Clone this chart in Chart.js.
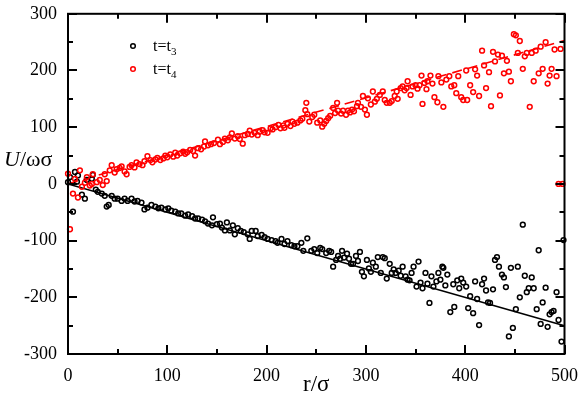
<!DOCTYPE html>
<html>
<head>
<meta charset="utf-8">
<script src="https://cdn.jsdelivr.net/npm/chart.js@4"></script>
<style>
html, body { margin: 0; padding: 0; background: #fff; }
</style>
</head>
<body>
<canvas id="c" width="581" height="399"></canvas>
<script>
// points, [r/sigma, U/omega sigma]
const puntsT3 = [
  [0,3],[2,12],[5,-49],[7,21],[9,4],[10,15],[14,-19],[17,-26],[19,7],[24,9],
  [25,16],[28,-10],[30,-14],[34,-17],[37,-21],[39,-40],[41,-37],[44,-21],[47,-26],[50,-26],
  [54,-30],[57,-26],[60,-30],[64,-26],[67,-31],[70,-30],[74,-33],[77,-45],[80,-42],[84,-37],
  [88,-40],[91,-43],[94,-42],[98,-45],[101,-43],[104,-47],[108,-49],[111,-52],[114,-52],[118,-56],
  [121,-54],[125,-57],[128,-61],[131,-61],[135,-63],[138,-66],[141,-70],[145,-73],[146,-59],[150,-71],
  [153,-70],[155,-77],[158,-82],[160,-68],[163,-82],[166,-73],[168,-89],[171,-78],[174,-83],[177,-85],
  [181,-89],[183,-97],[185,-83],[189,-83],[191,-92],[195,-90],[198,-94],[201,-97],[205,-99],[209,-101],
  [211,-104],[215,-97],[218,-106],[221,-101],[225,-108],[228,-110],[231,-110],[235,-104],[237,-118],[241,-96],
  [245,-118],[248,-115],[251,-122],[254,-113],[256,-115],[260,-122],[263,-118],[265,-120],[267,-146],[270,-134],
  [272,-127],[274,-132],[276,-118],[278,-130],[281,-123],[283,-132],[285,-141],[287,-141],[290,-127],[292,-136],
  [294,-120],[296,-155],[298,-163],[301,-134],[303,-149],[305,-155],[307,-139],[310,-146],[312,-129],[315,-157],
  [317,-129],[319,-131],[321,-167],[324,-141],[326,-157],[328,-151],[330,-157],[333,-153],[335,-162],[337,-146],
  [340,-163],[342,-169],[344,-170],[346,-157],[348,-146],[351,-181],[353,-137],[355,-174],[357,-184],[360,-157],
  [362,-176],[364,-210],[366,-163],[368,-181],[371,-172],[373,-157],[375,-169],[377,-146],[378,-148],[380,-179],
  [382,-160],[385,-226],[388,-177],[389,-217],[392,-170],[394,-184],[396,-167],[398,-174],[401,-181],[403,-219],
  [405,-198],[408,-228],[410,-172],[412,-203],[414,-249],[417,-177],[419,-167],[421,-188],[423,-209],[425,-210],
  [428,-186],[430,-134],[432,-129],[434,-146],[437,-160],[439,-165],[441,-182],[444,-269],[446,-148],[448,-254],
  [451,-221],[453,-146],[455,-200],[458,-72],[460,-162],[462,-191],[464,-184],[467,-165],[469,-184],[472,-221],
  [474,-117],[476,-247],[478,-209],[481,-183],[483,-252],[485,-230],[487,-226],[489,-224],[492,-191],[494,-240],
  [497,-278],[499,-99]
];

const puntsT4 = [
  [0,18],[2,-80],[5,-17],[7,9],[10,-24],[12,24],[14,-5],[17,2],[19,12],[22,-3],
  [24,0],[25,17],[29,3],[32,7],[35,-2],[37,17],[39,5],[42,24],[44,33],[47,20],
  [49,26],[52,28],[54,31],[57,22],[59,17],[62,30],[64,33],[67,29],[69,38],[72,35],
  [75,33],[77,40],[80,49],[83,42],[85,38],[88,43],[90,46],[93,42],[96,45],[98,50],
  [100,47],[103,52],[106,48],[108,55],[110,50],[113,54],[116,57],[118,53],[120,56],[123,60],
  [126,58],[128,50],[131,63],[134,61],[137,66],[138,75],[141,68],[144,70],[147,72],[151,78],
  [153,70],[156,74],[158,80],[161,77],[163,82],[165,89],[168,80],[171,84],[173,79],[176,71],
  [178,86],[181,88],[183,94],[185,87],[188,90],[191,86],[193,92],[196,95],[198,91],[201,90],
  [204,98],[206,96],[209,100],[212,104],[214,98],[217,103],[218,99],[221,106],[224,102],[226,110],
  [228,106],[231,108],[234,112],[236,115],[239,130],[240,143],[241,123],[243,110],[246,118],[248,122],
  [251,108],[254,112],[256,101],[258,106],[260,111],[262,116],[264,120],[267,134],[269,125],[271,143],
  [272,129],[275,124],[277,129],[280,122],[282,129],[284,126],[286,131],[288,128],[291,137],[292,143],
  [295,136],[297,155],[299,131],[301,122],[302,151],[305,140],[307,163],[309,145],[311,150],[314,157],
  [317,163],[319,148],[321,143],[324,143],[326,146],[329,155],[331,163],[332,150],[335,169],[337,172],
  [339,165],[341,169],[342,181],[345,157],[347,172],[350,174],[352,168],[354,174],[356,191],[357,141],
  [359,178],[361,167],[362,181],[365,191],[367,177],[369,153],[372,144],[373,190],[376,179],[378,136],
  [381,184],[384,190],[386,172],[389,174],[391,160],[393,190],[396,153],[398,148],[401,200],[402,148],
  [405,174],[408,162],[410,202],[412,191],[414,155],[417,235],[419,209],[421,169],[424,197],[426,137],
  [428,233],[430,216],[433,228],[435,156],[437,226],[439,195],[442,217],[444,198],[446,181],[449,264],
  [451,262],[453,231],[455,252],[458,203],[460,225],[462,231],[465,136],[467,231],[469,181],[471,235],
  [474,195],[476,242],[478,203],[481,250],[483,177],[485,191],[487,203],[490,237],[492,190],[494,0],
  [496,238],[498,0]
];

// straight lines drawn through the data
const rectaT3 = [[0,0],[500,-250]];
const rectaT4 = [[0,0],[500,253]];

const etiquetes = ['t=t_3', 't=t_4'];
const colors = ['#000000', '#ff0000'];

const eixX = { min: 0, max: 500, pas: 100, menor: 50 };
const eixY = { min: -300, max: 300, pas: 100, menor: 50 };

const SERIF = '"Liberation Serif", "Times New Roman", serif';

function aPunts(arr) {
  return arr.map(p => ({ x: p[0], y: p[1] }));
}

// frame, inward ticks, y title and legend, as in the original plot
const marcPlugin = {
  id: 'marc',
  afterDraw(chart) {
    const ctx = chart.ctx;
    const a = chart.chartArea;
    const sx = chart.scales.x;
    const sy = chart.scales.y;
    ctx.save();
    ctx.strokeStyle = '#000';
    ctx.lineWidth = 2;
    ctx.strokeRect(a.left, a.top, a.right - a.left, a.bottom - a.top);

    ctx.lineWidth = 2;
    for (let v = eixX.min; v <= eixX.max; v += eixX.menor) {
      const px = Math.round(sx.getPixelForValue(v));
      const l = (v % eixX.pas === 0) ? 9 : 5;
      ctx.beginPath();
      ctx.moveTo(px, a.bottom); ctx.lineTo(px, a.bottom - l);
      ctx.moveTo(px, a.top); ctx.lineTo(px, a.top + l);
      ctx.stroke();
    }
    for (let v = eixY.min; v <= eixY.max; v += eixY.menor) {
      const py = Math.round(sy.getPixelForValue(v));
      const l = (v % eixY.pas === 0) ? 9 : 5;
      ctx.beginPath();
      ctx.moveTo(a.left, py); ctx.lineTo(a.left + l, py);
      ctx.moveTo(a.right, py); ctx.lineTo(a.right - l, py);
      ctx.stroke();
    }

    // y axis title, horizontal
    ctx.fillStyle = '#000';
    ctx.textBaseline = 'alphabetic';
    ctx.textAlign = 'left';
    ctx.font = 'italic 22px ' + SERIF;
    ctx.fillText('U', 4, 166);
    const w = ctx.measureText('U').width;
    ctx.font = '22px ' + SERIF;
    ctx.fillText('/ωσ', 4 + w, 166);

    // legend
    etiquetes.forEach((et, i) => {
      const y = 46 + i * 23;
      ctx.beginPath();
      ctx.arc(133, y, 2.3, 0, Math.PI * 2);
      ctx.strokeStyle = colors[i];
      ctx.lineWidth = 1.5;
      ctx.stroke();
      const [base, sub] = et.split('_');
      ctx.fillStyle = '#000';
      ctx.font = '16px ' + SERIF;
      ctx.fillText(base, 153, y + 5);
      const bw = ctx.measureText(base).width;
      ctx.font = '11px ' + SERIF;
      ctx.fillText(sub, 153 + bw, y + 9);
    });
    ctx.restore();
  }
};

const tickFont = { family: SERIF, size: 18 };

new Chart(document.getElementById('c'), {
  type: 'scatter',
  data: {
    datasets: [
      {
        label: etiquetes[1],
        data: aPunts(puntsT4),
        showLine: false,
        pointRadius: 2.4,
        pointBorderWidth: 1.5,
        pointBackgroundColor: 'rgba(0,0,0,0)',
        pointBorderColor: colors[1],
        clip: 4
      },
      {
        label: etiquetes[0],
        data: aPunts(puntsT3),
        showLine: false,
        pointRadius: 2.4,
        pointBorderWidth: 1.5,
        pointBackgroundColor: 'rgba(0,0,0,0)',
        pointBorderColor: colors[0],
        clip: 4
      },
      {
        label: 'recta t4',
        data: aPunts(rectaT4),
        showLine: true,
        pointRadius: 0,
        borderColor: colors[1],
        borderWidth: 1.6,
        borderDash: [10, 6]
      },
      {
        label: 'recta t3',
        data: aPunts(rectaT3),
        showLine: true,
        pointRadius: 0,
        borderColor: colors[0],
        borderWidth: 1.6
      }
    ]
  },
  options: {
    responsive: false,
    animation: false,
    events: [],
    layout: { padding: { left: 0, top: 9, right: 16, bottom: 0 } },
    plugins: {
      legend: { display: false },
      tooltip: { enabled: false }
    },
    scales: {
      x: {
        type: 'linear',
        min: eixX.min,
        max: eixX.max,
        grid: { display: false },
        border: { display: false },
        ticks: { stepSize: eixX.pas, color: '#000', font: tickFont, padding: 3, maxRotation: 0 },
        title: { display: true, text: 'r/σ', color: '#000', font: { family: SERIF, size: 23 }, padding: { top: 0, bottom: 0 } },
        afterFit(scale) { scale.height = 45; }
      },
      y: {
        type: 'linear',
        min: eixY.min,
        max: eixY.max,
        grid: { display: false },
        border: { display: false },
        ticks: { stepSize: eixY.pas, color: '#000', font: tickFont, padding: 3 },
        afterFit(scale) { scale.width = 68; }
      }
    }
  },
  plugins: [marcPlugin]
});
</script>
</body>
</html>
